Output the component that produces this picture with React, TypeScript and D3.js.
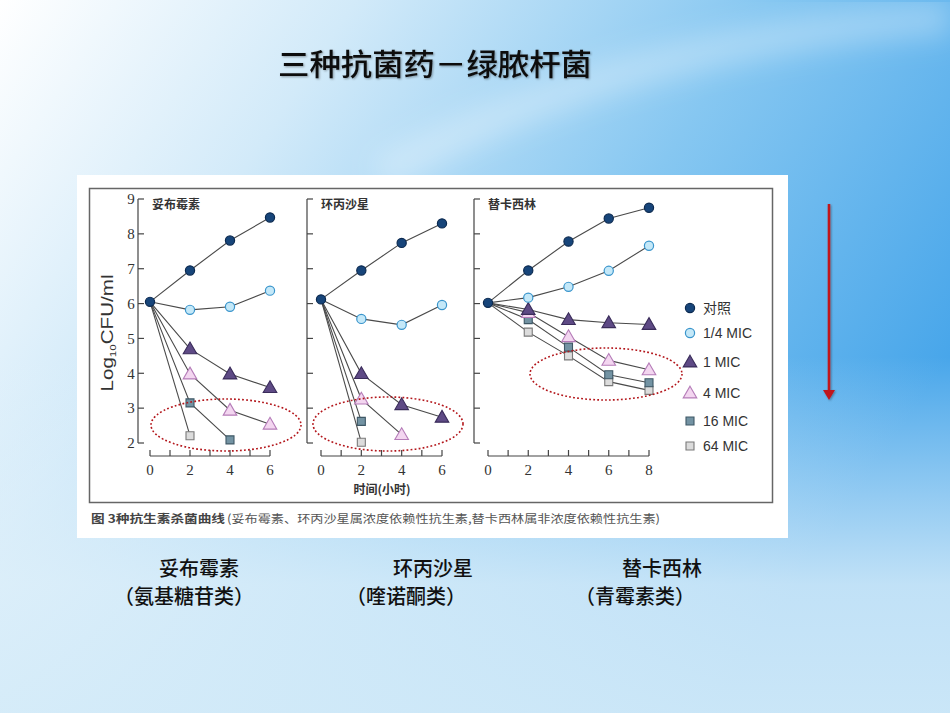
import * as d3 from 'd3';
import { FC } from 'react';

// time points (hours)
const times6 = [0, 2, 4, 6];
const times8 = [0, 2, 4, 6, 8];

// 妥布霉素 log10 CFU/ml
const tobraControl = [6.05, 6.95, 7.81, 8.47];
const tobraQuarter = [6.05, 5.82, 5.91, 6.37];
const tobraOne = [6.05, 4.7, 3.98, 3.59];
const tobraFour = [6.05, 3.98, 2.94, 2.54];
const tobraSixteen = [6.05, 3.15, 2.09];
const tobraSixtyFour = [6.05, 2.21];

// 环丙沙星
const ciproControl = [6.12, 6.95, 7.74, 8.3];
const ciproQuarter = [6.12, 5.56, 5.39, 5.96];
const ciproOne = [6.12, 3.99, 3.1, 2.74];
const ciproFour = [6.12, 3.26, 2.24];
const ciproSixteen = [6.12, 2.62];
const ciproSixtyFour = [6.12, 2.02];

// 替卡西林
const ticarControl = [6.02, 6.95, 7.78, 8.44, 8.75];
const ticarQuarter = [6.02, 6.17, 6.48, 6.94, 7.66];
const ticarOne = [6.02, 5.83, 5.54, 5.45, 5.4];
const ticarFour = [6.02, 5.74, 5.05, 4.37, 4.1];
const ticarSixteen = [6.02, 5.54, 4.75, 3.96, 3.73];
const ticarSixtyFour = [6.02, 5.18, 4.5, 3.76, 3.51];

const seriesNames = ['对照', '1/4 MIC', '1 MIC', '4 MIC', '16 MIC', '64 MIC'];
const yTicks = [2, 3, 4, 5, 6, 7, 8, 9];
const panelTitles = ['妥布霉素', '环丙沙星', '替卡西林'];
const drugNames = ['妥布霉素', '环丙沙星', '替卡西林'];
const drugClasses = ['（氨基糖苷类）', '（喹诺酮类）', '（青霉素类）'];

const markerStyle = [
  { shape: 'circle', fill: '#17457a', stroke: '#0c2a50' },
  { shape: 'circle', fill: '#c4e8f8', stroke: '#3a95cc' },
  { shape: 'triangle', fill: '#5e4a85', stroke: '#3a2c5a' },
  { shape: 'triangle', fill: '#f3d6f0', stroke: '#b57cb8' },
  { shape: 'square', fill: '#7393a3', stroke: '#3f5866' },
  { shape: 'square', fill: '#dcdcdc', stroke: '#7a7a7a' },
];

const panels = [
  { times: times6, axisX: 138, range: [150, 270], ellipse: [226, 425, 75, 26], series: [tobraControl, tobraQuarter, tobraOne, tobraFour, tobraSixteen, tobraSixtyFour] },
  { times: times6, axisX: 307, range: [321, 442], ellipse: [388, 424, 75, 27], series: [ciproControl, ciproQuarter, ciproOne, ciproFour, ciproSixteen, ciproSixtyFour] },
  { times: times8, axisX: 474, range: [488, 649], ellipse: [606, 374, 76, 26], series: [ticarControl, ticarQuarter, ticarOne, ticarFour, ticarSixteen, ticarSixtyFour] },
];

const CJK = '"Noto Sans CJK SC", sans-serif';
const y = d3.scaleLinear().domain([2, 9]).range([443, 199]);
const sym = {
  triangle: d3.symbol().type(d3.symbolTriangle).size(80)() as string,
  square: d3.symbol().type(d3.symbolSquare).size(64)() as string,
};

const Marker: FC<{ i: number; cx: number; cy: number }> = ({ i, cx, cy }) => {
  const s = markerStyle[i];
  if (s.shape === 'circle')
    return <circle cx={cx} cy={cy} r={4.6} fill={s.fill} stroke={s.stroke} strokeWidth={1.2} />;
  return (
    <path
      d={s.shape === 'triangle' ? sym.triangle : sym.square}
      transform={`translate(${cx},${cy + (s.shape === 'triangle' ? 1 : 0)})`}
      fill={s.fill}
      stroke={s.stroke}
      strokeWidth={1.1}
    />
  );
};

const App: FC = () => {
  const W = 950;
  const H = 713;
  return (
    <svg width={W} height={H} style={{ position: 'absolute', left: 0, top: 0 }}>
      <defs>
        <linearGradient id='bg' x1='0' y1='0' x2='1' y2='0.5'>
          <stop offset='0' stopColor='#ffffff' />
          <stop offset='0.3' stopColor='#d2eaf9' />
          <stop offset='0.65' stopColor='#86c7f1' />
          <stop offset='1' stopColor='#48a6ea' />
        </linearGradient>
        <linearGradient id='bottom' x1='0' y1='0' x2='0' y2='1'>
          <stop offset='0.5' stopColor='#e4f2fb' stopOpacity={0} />
          <stop offset='0.82' stopColor='#dff0fa' stopOpacity={0.8} />
          <stop offset='1' stopColor='#d8edf9' stopOpacity={0.9} />
        </linearGradient>
        <filter id='blur'>
          <feGaussianBlur stdDeviation='14' />
        </filter>
        <filter id='shadow' x='-50%' y='-50%' width='200%' height='200%'>
          <feDropShadow dx='1' dy='1' stdDeviation='0.8' floodColor='#000' floodOpacity='0.35' />
        </filter>
      </defs>
      <rect width={W} height={H} fill='url(#bg)' />
      <path d='M380,175 Q620,40 950,18' fill='none' stroke='#ffffff' strokeOpacity={0.3} strokeWidth={34} filter='url(#blur)' />
      <rect width={W} height={H} fill='url(#bottom)' />

      {/* title */}
      <text x={435} y={75} textAnchor='middle' fontFamily={CJK} fontSize={30} fontWeight={500} fill='#111' textLength={314} lengthAdjust='spacingAndGlyphs' filter='url(#shadow)'>
        三种抗菌药－绿脓杆菌
      </text>

      {/* figure image */}
      <rect x={77} y={175} width={711} height={363} fill='#fff' />
      <rect x={89.5} y={188.5} width={683} height={314} fill='none' stroke='#666' strokeWidth={1.5} />

      {panels.map((p, pi) => {
        const x = d3.scaleLinear().domain([0, p.times[p.times.length - 1]]).range(p.range);
        const xTicks = d3.range(0, p.times[p.times.length - 1] + 1);
        const line = d3.line<number>().x((_, k) => x(p.times[k])).y((v) => y(v));
        const [ex, ey, erx, ery] = p.ellipse;
        return (
          <g key={pi}>
            {/* y axis */}
            <line x1={p.axisX} x2={p.axisX} y1={y(9)} y2={y(2)} stroke='#444' strokeWidth={1.2} />
            {yTicks.map((t) => (
              <line key={t} x1={p.axisX} x2={p.axisX + 6} y1={y(t)} y2={y(t)} stroke='#444' strokeWidth={1.2} />
            ))}
            {pi === 0 &&
              yTicks.map((t) => (
                <text key={t} x={131} y={y(t)} dy='0.35em' textAnchor='middle' fontFamily='"Liberation Serif", serif' fontSize={15} fill='#333'>
                  {t}
                </text>
              ))}
            {/* x axis */}
            <line x1={x(0)} x2={x(xTicks[xTicks.length - 1])} y1={456} y2={456} stroke='#444' strokeWidth={1.2} />
            {xTicks.map((t) => (
              <line key={t} x1={x(t)} x2={x(t)} y1={456} y2={450} stroke='#444' strokeWidth={1.2} />
            ))}
            {xTicks.filter((t) => t % 2 === 0).map((t) => (
              <text key={t} x={x(t)} y={470} dy='0.35em' textAnchor='middle' fontFamily='"Liberation Serif", serif' fontSize={15} fill='#333'>
                {t}
              </text>
            ))}
            <text x={p.axisX + 14} y={205} dy='0.35em' fontFamily={CJK} fontSize={12} fontWeight={700} fill='#333'>
              {panelTitles[pi]}
            </text>
            {/* series lines */}
            {p.series.map((s, si) => (
              <path key={si} d={line(s) as string} fill='none' stroke='#4a4a4a' strokeWidth={1.1} />
            ))}
            {/* markers */}
            {p.series
              .map((s, si) => ({ s, si }))
              .reverse()
              .map(({ s, si }) =>
                s.map((v, k) => (k === 0 && si !== 0 ? null : <Marker key={`${si}-${k}`} i={si} cx={x(p.times[k])} cy={y(v)} />))
              )}
            <ellipse cx={ex} cy={ey} rx={erx} ry={ery} fill='none' stroke='#b3161b' strokeWidth={1.6} strokeDasharray='1.8,2.2' />
          </g>
        );
      })}

      <text transform='translate(113,333) rotate(-90)' textAnchor='middle' fontFamily='"Liberation Sans", Arial, sans-serif' fontSize={16} fill='#333' textLength={117} lengthAdjust='spacingAndGlyphs'>
        Log<tspan fontSize={9} dy={3}>10</tspan>
        <tspan dy={-3}>CFU/ml</tspan>
      </text>
      <text x={382} y={490} dy='0.35em' textAnchor='middle' fontFamily={CJK} fontSize={12} fontWeight={700} fill='#333'>
        时间(小时)
      </text>

      {/* legend */}
      {seriesNames.map((n, i) => {
        const ly = [308, 333, 362, 393, 421, 446][i];
        return (
          <g key={n}>
            <Marker i={i} cx={690} cy={ly} />
            <text x={703} y={ly} dy='0.36em' fontFamily={i === 0 ? CJK : '"Liberation Sans", Arial, sans-serif'} fontSize={14} fill='#333'>
              {n}
            </text>
          </g>
        );
      })}

      {/* caption */}
      <text x={91} y={519} dy='0.35em' fontFamily={CJK} fontSize={11.5} fontWeight={700} fill='#444' textLength={134} lengthAdjust='spacingAndGlyphs'>
        图 3种抗生素杀菌曲线
      </text>
      <text x={227} y={519} dy='0.35em' fontFamily={CJK} fontSize={11.5} fill='#555' textLength={433} lengthAdjust='spacingAndGlyphs'>
        (妥布霉素、环丙沙星属浓度依赖性抗生素,替卡西林属非浓度依赖性抗生素)
      </text>

      {/* red arrow */}
      <g filter='url(#shadow)'>
        <rect x={827.7} y={204} width={2.6} height={188} fill='#c0161e' />
        <path d='M823,390 L835,390 L829,400 Z' fill='#c0161e' />
      </g>

      {/* bottom labels */}
      {drugNames.map((n, i) => {
        const cx = [199, 433, 662][i];
        const cx2 = [184, 406, 635][i];
        return (
          <g key={n} fontFamily={CJK} fontSize={20} fill='#111' fontWeight={500}>
            <text x={cx} y={576} textAnchor='middle'>{n}</text>
            <text x={cx2} y={604} textAnchor='middle'>{drugClasses[i]}</text>
          </g>
        );
      })}
    </svg>
  );
};

export default App;
